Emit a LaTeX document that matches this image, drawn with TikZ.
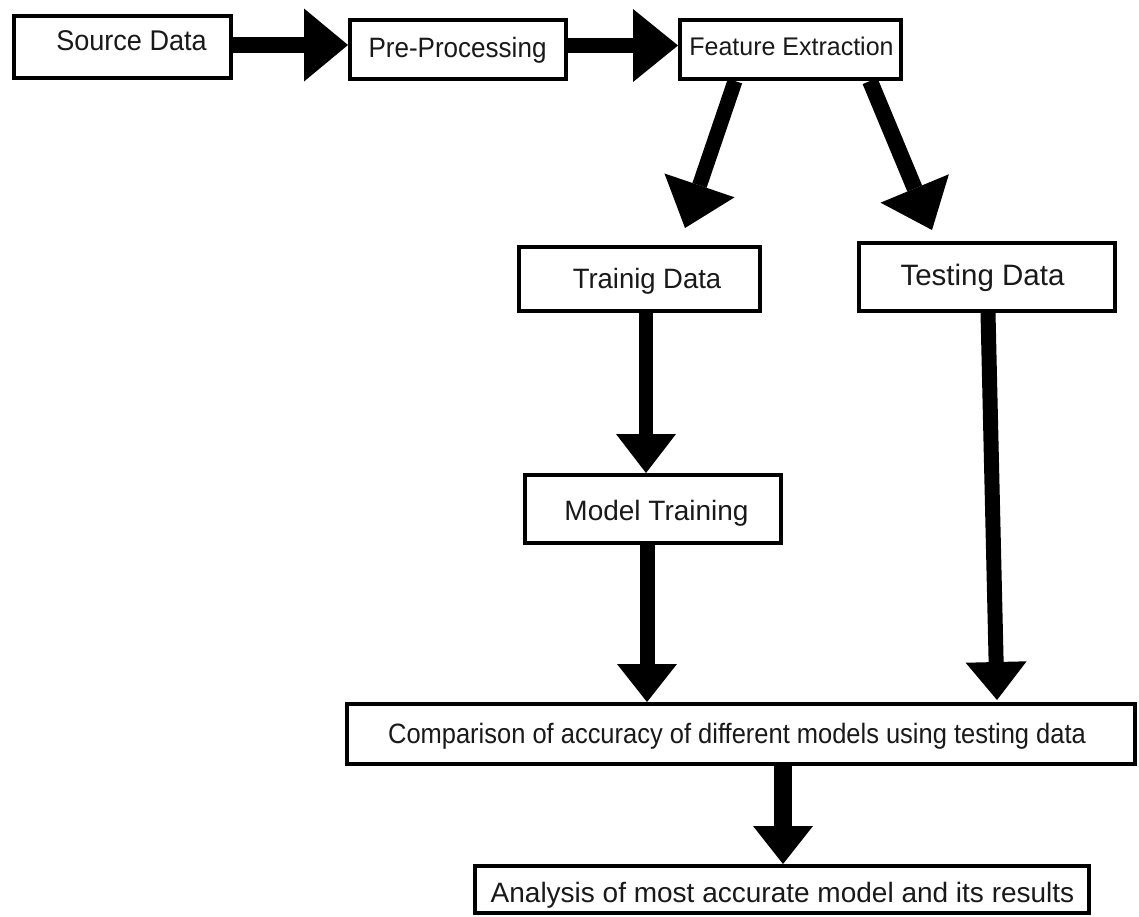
\documentclass[tikz,border=0pt]{standalone}
\usepackage{fontspec}
\setmainfont{Liberation Sans}
\usetikzlibrary{arrows.meta}
\newcommand\fsz[1]{\fontsize{#1}{#1}\selectfont}
\begin{document}
\begin{tikzpicture}[x=1pt,y=-1pt,
  box/.style={draw,line width=4pt,inner sep=0pt,rectangle},
  lbl/.style={anchor=base,inner sep=0pt,text=black!90},
  barrow/.style n args={3}{line width=#1,-{Triangle[length=#2,width=#3,line width=0pt]}}]
\fill[white] (0,0) rectangle (1139,916);
\useasboundingbox (0,0) rectangle (1139,916);
% boxes
\node[box,minimum width=217pt,minimum height=62pt] (src) at (122.5,47) {};
\node[box,minimum width=216pt,minimum height=59pt] (pre) at (458,49.5) {};
\node[box,minimum width=221pt,minimum height=59pt] (fe) at (790.5,49.5) {};
\node[box,minimum width=241pt,minimum height=64pt] (train) at (639.5,279) {};
\node[box,minimum width=256pt,minimum height=68pt] (test) at (987,277) {};
\node[box,minimum width=256pt,minimum height=68pt] (model) at (653,509) {};
\node[box,minimum width=788pt,minimum height=60pt] (comp) at (741,734) {};
\node[box,minimum width=614pt,minimum height=47pt] (anal) at (782,889.5) {};
% texts
\node[lbl,font=\fsz{28.5}] (tsrc) at (131.5,50) {\scalebox{0.95}[1]{Source Data}};
\node[lbl,font=\fsz{28}] (tpre) at (457.5,57) {\scalebox{0.93}[1]{Pre-Processing}};
\node[lbl,font=\fsz{25.5}] (tfe) at (791.5,55) {\scalebox{0.98}[1]{Feature Extraction}};
\node[lbl,font=\fsz{28}] (ttrain) at (647,288) {\scalebox{0.98}[1]{Trainig Data}};
\node[lbl,font=\fsz{29.5}] (ttest) at (982.5,285) {Testing Data};
\node[lbl,font=\fsz{28}] (tmodel) at (656.5,520) {Model Training};
\node[lbl,font=\fsz{28}] (tcomp) at (737,743) {\scalebox{0.91}[1]{Comparison of accuracy of different models using testing data}};
\node[lbl,font=\fsz{28}] (tanal) at (782.5,902) {Analysis of most accurate model and its results};
% free ends
\coordinate (t3) at (685,228);
\coordinate (t4) at (932,230);
\coordinate (t7) at (997,700);
% arrows
\draw[barrow={16pt}{44pt}{73pt}] ([yshift=2pt]src.east) -- ([yshift=2pt]src.east -| pre.west);
\draw[barrow={15pt}{45pt}{73pt}] ([yshift=4pt]pre.east) -- ([yshift=4pt]pre.east -| fe.west);
\draw[barrow={15pt}{45pt}{74pt}] ([xshift=-55.5pt]fe.south) -- (t3);
\draw[barrow={16pt}{45pt}{74pt}] ([xshift=79.5pt]fe.south) -- (t4);
\draw[barrow={14pt}{39pt}{60pt}] ([xshift=6.5pt]train.south) -- ([xshift=6.5pt]train.south |- model.north);
\draw[barrow={15pt}{38pt}{60pt}] ([xshift=-6pt]model.south) -- ([xshift=-6pt]model.south |- comp.north);
\draw[barrow={15pt}{38pt}{61pt}] ([xshift=1pt]test.south) -- (t7);
\draw[barrow={18pt}{38pt}{60pt}] ([xshift=42pt]comp.south) -- ([xshift=42pt]comp.south |- anal.north);
\end{tikzpicture}
\end{document}
